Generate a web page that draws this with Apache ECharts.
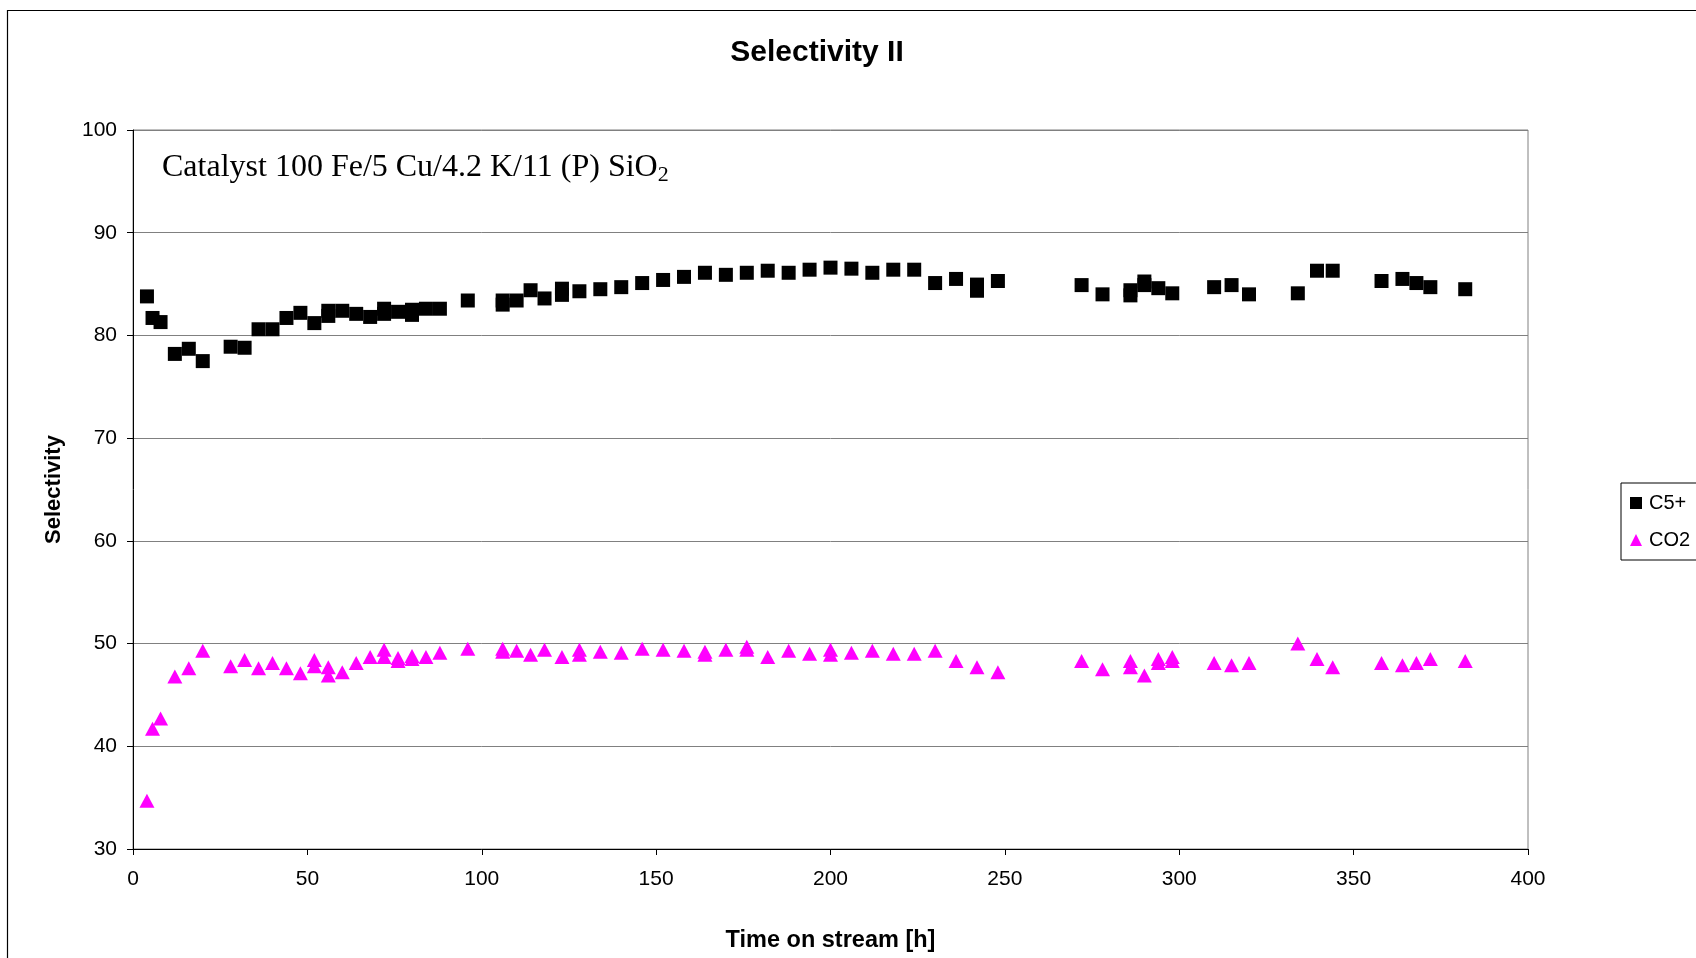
<!DOCTYPE html>
<html>
<head>
<meta charset="utf-8">
<script src="https://cdn.jsdelivr.net/npm/echarts@6/dist/echarts.min.js"></script>
<style>
html,body{margin:0;padding:0;background:#fff;}
#chart{width:1696px;height:958px;}
</style>
</head>
<body>
<div id="chart"></div>
<script>
var titleText = 'Selectivity II';
var xAxisName = 'Time on stream [h]';
var yAxisName = 'Selectivity';
var seriesNames = ['C5+', 'CO2'];

var timeC5 = [4,5.6,7.9,12,16,20,28,32,36,40,44,48,52,56,56,60,64,68,72,72,76,80,80,84,88,96,106,106,110,114,118,123,123,128,134,140,146,152,158,164,170,176,182,188,194,200,206,212,218,224,230,236,242,242,248,272,278,286,286,290,290,294,298,310,315,320,334,339.5,344,358,364,368,372,382];
var c5Values = [83.8,81.7,81.3,78.2,78.7,77.5,78.9,78.8,80.6,80.6,81.7,82.2,81.2,82.4,81.9,82.4,82.1,81.8,82.6,82.1,82.3,82.5,82.0,82.6,82.6,83.4,83.4,83.0,83.4,84.4,83.6,84.55,83.95,84.3,84.5,84.7,85.1,85.4,85.7,86.1,85.9,86.1,86.3,86.1,86.4,86.6,86.5,86.1,86.4,86.4,85.1,85.5,84.95,84.35,85.3,84.9,84.0,84.4,83.9,85.25,84.9,84.6,84.1,84.7,84.9,84.0,84.1,86.3,86.3,85.3,85.5,85.1,84.7,84.5];

var timeCO2 = [4,5.6,7.9,12,16,20,28,32,36,40,44,48,52,52,56,56,60,64,68,72,72,76,76,80,80,84,88,96,106,106,110,114,118,123,128,128,134,140,146,152,158,164,164,170,176,176,182,188,194,200,200,206,212,218,224,230,236,242,248,272,278,286,286,290,294,294,298,298,310,315,320,334,339.5,344,358,364,368,372,382];
var co2Values = [34.7,41.7,42.7,46.8,47.6,49.3,47.8,48.4,47.6,48.1,47.6,47.1,48.4,47.8,47.7,46.9,47.2,48.1,48.7,49.4,48.7,48.6,48.3,48.8,48.5,48.7,49.1,49.5,49.5,49.2,49.3,48.9,49.4,48.7,49.4,48.9,49.2,49.1,49.5,49.4,49.3,49.2,48.9,49.4,49.7,49.4,48.7,49.3,49.0,49.4,48.9,49.1,49.3,49.0,49.0,49.3,48.3,47.7,47.2,48.3,47.5,48.3,47.7,46.9,48.5,48.1,48.7,48.3,48.1,47.9,48.1,50.0,48.5,47.7,48.1,47.9,48.1,48.5,48.3];

var xTicks = {min: 0, max: 400, interval: 50};
var yTicks = {min: 30, max: 100, interval: 10};

function pairs(xs, ys) { return xs.map(function (x, i) { return [x, ys[i]]; }); }

var chart = echarts.init(document.getElementById('chart'), null, {renderer: 'canvas'});
var sans = 'Liberation Sans, Arial, sans-serif';
var option = {
  backgroundColor: '#fff',
  animation: false,
  graphic: [
    {type: 'rect', z: -10, shape: {x: 7.5, y: 10.5, width: 1800, height: 1000}, style: {fill: '#fff', stroke: '#000', lineWidth: 1.2}},
    {type: 'text', x: 817, y: 53, style: {text: titleText, font: 'bold 30px ' + sans, fill: '#000', textAlign: 'center', textVerticalAlign: 'middle'}},
    {type: 'text', x: 162, y: 168, style: {
      text: '{a|Catalyst 100 Fe/5 Cu/4.2 K/11 (P) SiO}{b|2}',
      textVerticalAlign: 'middle', fill: '#000',
      rich: {
        a: {fontFamily: 'Liberation Serif, Times New Roman, serif', fontSize: 32, fill: '#000', color: '#000'},
        b: {fontFamily: 'Liberation Serif, Times New Roman, serif', fontSize: 22, fill: '#000', color: '#000', padding: [14, 0, 0, 0]}
      }
    }}
  ],
  grid: {left: 133, right: 168, top: 130, bottom: 109, show: true, borderColor: '#808080', borderWidth: 1, backgroundColor: 'transparent'},
  legend: {
    data: seriesNames,
    orient: 'vertical',
    left: 1621, top: 483,
    padding: [10, 40, 10, 9],
    itemGap: 17,
    itemWidth: 12, itemHeight: 12,
    borderColor: '#000', borderWidth: 1,
    textStyle: {fontFamily: sans, fontSize: 20, color: '#000', padding: [0, 0, 0, 2]}
  },
  xAxis: {
    type: 'value', min: xTicks.min, max: xTicks.max, interval: xTicks.interval,
    name: xAxisName, nameLocation: 'middle', nameGap: 80,
    nameTextStyle: {fontFamily: sans, fontSize: 23.5, fontWeight: 'bold', color: '#000'},
    axisLine: {onZero: false, lineStyle: {color: '#000', width: 1}},
    axisTick: {show: true, length: 6, lineStyle: {color: '#000'}},
    axisLabel: {fontFamily: sans, fontSize: 21, color: '#000', margin: 20},
    splitLine: {show: false}
  },
  yAxis: {
    type: 'value', min: yTicks.min, max: yTicks.max, interval: yTicks.interval,
    name: yAxisName, nameLocation: 'middle', nameGap: 68, nameRotate: 90,
    nameTextStyle: {fontFamily: sans, fontSize: 22, fontWeight: 'bold', color: '#000'},
    axisLine: {show: true, onZero: false, lineStyle: {color: '#000', width: 1}},
    axisTick: {show: true, length: 6, lineStyle: {color: '#000'}},
    axisLabel: {fontFamily: sans, fontSize: 21, color: '#000', margin: 16},
    splitLine: {show: true, lineStyle: {color: '#808080', width: 1}}
  },
  series: [
    {name: seriesNames[0], type: 'scatter', symbol: 'rect', symbolSize: 14,
     itemStyle: {color: '#000', opacity: 1}, data: pairs(timeC5, c5Values), z: 3},
    {name: seriesNames[1], type: 'scatter', symbol: 'triangle', symbolSize: [15, 14],
     itemStyle: {color: '#ff00ff', opacity: 1}, data: pairs(timeCO2, co2Values), z: 4}
  ]
};
chart.setOption(option);
</script>
</body>
</html>
